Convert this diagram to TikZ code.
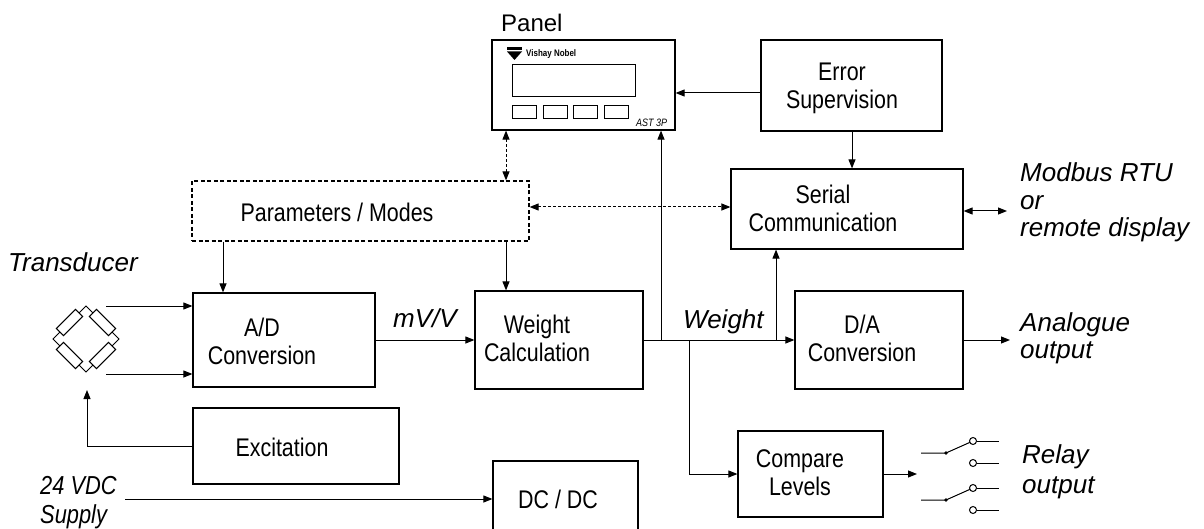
\documentclass[tikz,border=0pt]{standalone}
\usepackage{fontspec}
\setmainfont{Liberation Sans}
\newfontfamily\narrowsans{Liberation Sans}[FakeStretch=0.84]
\usetikzlibrary{arrows.meta, calc}

\begin{document}
\begin{tikzpicture}[x=1pt, y=-1pt,
  >={Triangle[length=9pt, width=7pt]},
  blk/.style={draw, line width=1.2pt, inner sep=0pt},
  dblk/.style={blk, dash pattern=on 4pt off 2.5pt},
  wire/.style={line width=1pt},
  dwire/.style={wire, dash pattern=on 3pt off 2pt},
  res/.style={draw, line width=1pt, fill=white, minimum width=27, minimum height=10, inner sep=0pt},
  txt/.style={font=\narrowsans\fontsize{25.5}{28}\selectfont, align=center, inner sep=0pt},
  lbl/.style={font=\itshape\fontsize{26}{27.5}\selectfont, align=left, inner sep=0pt, anchor=base west}]
\clip (0,0) rectangle (1204,529);

\node[blk, minimum width=183, minimum height=90] (panel) at (583.5,85) {};
\node[anchor=base west, inner sep=0pt, font=\fontsize{24}{26}\selectfont] (panel_l) at (501,32) {Panel};
\fill (507,47) rectangle (522,50);
\fill (507,51.5) -- (522,51.5) -- (514.5,60) -- cycle;
\node[anchor=west, inner sep=0pt, font=\narrowsans\bfseries\fontsize{9.5}{10}\selectfont] (brand) at (526,54) {Vishay Nobel};
\draw[wire] (512,65) rectangle (635,97);
\foreach \bx in {512,543,573,604}
  \draw[wire] (\bx,106) rectangle ++(24,13);
\node[anchor=base west, inner sep=0pt, font=\narrowsans\itshape\fontsize{10.7}{11}\selectfont] (model) at (636,127) {AST 3P};

\node[blk, minimum width=181, minimum height=91] (err) at (851.5,85.5) {};
\node[txt] (err_l) at (842,88) {Error\\Supervision};

\node[blk, minimum width=232, minimum height=80] (ser) at (847,209) {};
\node[txt] (ser_l) at (823,208) {Serial\\Communication};

\node[dblk, minimum width=337, minimum height=60] (par) at (360.5,211) {};
\node[txt] (par_l) at (337,212) {Parameters / Modes};

\node[blk, minimum width=182, minimum height=94] (ad) at (284,340) {};
\node[txt] (ad_l) at (262,341) {A/D\\Conversion};

\node[blk, minimum width=168, minimum height=98] (wc) at (559,340) {};
\node[txt] (wc_l) at (537,338) {Weight\\Calculation};

\node[blk, minimum width=168, minimum height=98] (da) at (879,340) {};
\node[txt] (da_l) at (862,338) {D/A\\Conversion};

\node[blk, minimum width=145, minimum height=86] (cmp) at (810.5,474) {};
\node[txt] (cmp_l) at (800,473) {Compare\\Levels};

\node[blk, minimum width=206, minimum height=76] (exc) at (296,446) {};
\node[txt] (exc_l) at (282,447) {Excitation};

\node[blk, minimum width=145, minimum height=98] (dc) at (565.5,510) {};
\node[txt] (dc_l) at (558,499) {DC / DC};

\coordinate (br_t) at (86,306);
\coordinate (br_r) at (119,339);
\coordinate (br_b) at (86,372);
\coordinate (br_l) at (53,339);
\draw[wire] (br_l) -- (br_t) -- (br_r) -- (br_b) -- cycle;
\foreach \nm/\px/\py/\ang in {r_tl/69.5/322.5/45, r_tr/102.5/322.5/-45, r_bl/69.5/355.5/-45, r_br/102.5/355.5/45}
  \node[res, rotate=\ang] (\nm) at (\px,\py) {};
\node[lbl] (trans_l) at (8,272) {Transducer};

\coordinate (sig_p) at (106,306);
\coordinate (sig_m) at (106,374);
\coordinate (exc_in) at (87,390);
\coordinate (sup) at (125,499);
\coordinate (ana_out) at (1010,340);
\coordinate (rel_in) at (917,474);
\coordinate (bus_out) at (1007,211);

\draw[wire,->] (sig_p) -- (sig_p -| ad.west);
\draw[wire,->] (sig_m) -- (sig_m -| ad.west);
\draw[wire,->] (exc.west) -| (exc_in);
\draw[wire,->] (sup) -- (sup -| dc.west);
\node[font=\narrowsans\itshape\fontsize{26}{29}\selectfont, align=left, inner sep=0pt, anchor=base west] (sup_l) at (40,523) {24 VDC\\Supply};

\draw[wire,->] (par.south -| 223,0) -- (ad.north -| 223,0);
\draw[wire,->] (par.south -| 506,0) -- (wc.north -| 506,0);
\draw[dwire,<->] (panel.south -| 506,0) -- (par.north -| 506,0);
\draw[dwire,<->] (par.east |- 0,207) -- (ser.west |- 0,207);

\draw[wire,->] (err.west |- 0,93) -- (panel.east |- 0,93);
\draw[wire,->] (err.south -| 852,0) -- (ser.north -| 852,0);
\draw[wire,<->] (ser.east |- 0,211) -- (bus_out);
\node[lbl] (bus_l) at (1020,237) {Modbus RTU\\or\\remote display};

\draw[wire,->] (ad.east) -- (wc.west);
\node[lbl] (mvv_l) at (393,327) {mV/V};

\draw[wire,->] (wc.east) -- (da.west);
\draw[wire,->] (wc.east -| 661,0) -- (panel.south -| 661,0);
\draw[wire,->] (wc.east -| 776,0) -- (ser.south -| 776,0);
\draw[wire,->] (wc.east -| 689,0) |- (cmp.west);
\node[lbl] (wt_l) at (683,328) {Weight};

\draw[wire,->] (da.east) -- (ana_out);
\node[lbl] (ana_l) at (1020,358.5) {Analogue\\output};

\draw[wire,->] (cmp.east) -- (rel_in);
\foreach \ry in {453,500} {
  \draw[wire] (921,\ry) -- (946,\ry) -- (969.8,\ry-10.6);
  \fill (946,\ry) circle (1.8);
  \draw[wire] (973,\ry-12) circle (3.5);
  \draw[wire] (973,\ry+10) circle (3.5);
  \draw[wire] (976.5,\ry-12) -- (999,\ry-12);
  \draw[wire] (976.5,\ry+10) -- (999,\ry+10);
}
\node[lbl, font=\itshape\fontsize{26}{29.5}\selectfont] (rel_l) at (1022,493) {Relay\\output};
\end{tikzpicture}
\end{document}
